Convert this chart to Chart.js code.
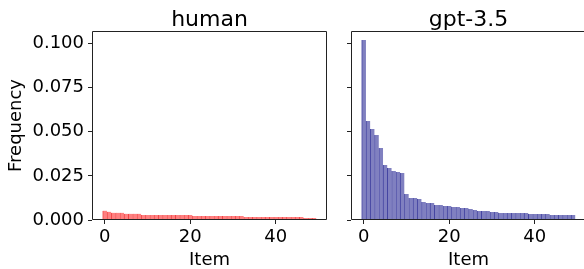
<!DOCTYPE html>
<html>
<head>
<meta charset="utf-8">
<script src="https://cdn.jsdelivr.net/npm/chart.js@4/dist/chart.umd.min.js"></script>
<style>
  html, body { margin: 0; padding: 0; background: #fff; width: 584px; height: 269px; overflow: hidden; }
  #wrap { position: relative; width: 584px; height: 269px; overflow: hidden; }
  canvas { position: absolute; top: 0; }
  #c1 { left: 0; }
  #c2 { left: 330px; }
</style>
</head>
<body>
<div id="wrap">
  <canvas id="c1" width="340" height="269"></canvas>
  <canvas id="c2" width="270" height="269"></canvas>
</div>
<script>
// ---- data ----
const items = Array.from({length: 50}, (_, i) => i);
const humanFreq = [
  0.0053, 0.0047, 0.0041, 0.0041, 0.0041, 0.0035, 0.0035, 0.0035, 0.0035, 0.0029,
  0.0029, 0.0029, 0.0029, 0.0029, 0.0029, 0.0029, 0.0029, 0.0029, 0.0029, 0.0029,
  0.0029, 0.0023, 0.0023, 0.0023, 0.0023, 0.0023, 0.0023, 0.0023, 0.0023, 0.0023,
  0.0023, 0.0023, 0.0023, 0.0017, 0.0017, 0.0017, 0.0017, 0.0017, 0.0017, 0.0017,
  0.0017, 0.0017, 0.0017, 0.0017, 0.0017, 0.0017, 0.0017, 0.0011, 0.0011, 0.0011
];
const gptFreq = [
  0.1020, 0.0561, 0.0516, 0.0482, 0.0408, 0.0312, 0.0295, 0.0278, 0.0272, 0.0266,
  0.0147, 0.0125, 0.0125, 0.0119, 0.0102, 0.0096, 0.0096, 0.0085, 0.0085, 0.0079,
  0.0079, 0.0074, 0.0074, 0.0068, 0.0068, 0.0062, 0.0057, 0.0051, 0.0051, 0.0051,
  0.0045, 0.0045, 0.0040, 0.0040, 0.0040, 0.0040, 0.0040, 0.0040, 0.0040, 0.0034,
  0.0034, 0.0034, 0.0034, 0.0034, 0.0028, 0.0028, 0.0028, 0.0028, 0.0028, 0.0028
];
const panelTitles = ['human', 'gpt-3.5'];
const xTicks = [0, 20, 40];
const yTicks = [0, 0.025, 0.05, 0.075, 0.1];
const xRange = [-3, 52];
const yRange = [0, 0.1071];
const xLabel = 'Item';
const yLabel = 'Frequency';

const FONT = "'DejaVu Sans', sans-serif";

const framePlugin = {
  id: 'frame',
  afterDatasetsDraw(chart, args, opts) {
    const {ctx, chartArea: a} = chart;
    ctx.save();
    ctx.strokeStyle = '#222';
    ctx.lineWidth = 1;
    ctx.beginPath();
    ctx.rect(Math.round(a.left) + 0.5, Math.round(a.top) + 0.5,
             Math.round(a.right - a.left) - 1, Math.round(a.bottom - a.top) - 1);
    ctx.stroke();
    ctx.fillStyle = '#000';
    ctx.font = '22px ' + FONT;
    ctx.textAlign = 'center';
    ctx.textBaseline = 'alphabetic';
    ctx.fillText(opts.text, (a.left + a.right) / 2, 26);
    ctx.restore();
  }
};

function makeChart(id, values, fill, edge, title, showYLabels, yWidth, padRight) {
  return new Chart(document.getElementById(id), {
    type: 'bar',
    data: {
      datasets: [{
        data: items.map((x, i) => ({x: x, y: values[i]})),
        backgroundColor: fill,
        borderColor: edge,
        borderWidth: {left: 1, right: 0, top: 0, bottom: 0},
        borderSkipped: false,
        barPercentage: 1,
        categoryPercentage: 1
      }]
    },
    options: {
      responsive: false,
      animation: false,
      devicePixelRatio: 1,
      layout: {padding: {top: 31, right: padRight, left: 0, bottom: 0}},
      plugins: {legend: {display: false}, tooltip: {enabled: false}, frame: {text: title}},
      scales: {
        x: {
          type: 'linear',
          offset: false,
          min: xRange[0], max: xRange[1],
          grid: {display: true, offset: false, drawOnChartArea: false, drawTicks: true, tickLength: 4, tickColor: '#222', tickWidth: 1},
          border: {display: false},
          ticks: {font: {family: FONT, size: 18}, color: '#000', padding: 3, maxRotation: 0},
          title: {display: true, text: xLabel, font: {family: FONT, size: 18, lineHeight: 1}, color: '#000', padding: {top: 0, bottom: 0}},
          afterBuildTicks: s => { s.ticks = xTicks.map(v => ({value: v})); },
          afterFit: s => { s.height = 49; }
        },
        y: {
          type: 'linear',
          min: yRange[0], max: yRange[1],
          grid: {display: true, drawOnChartArea: false, drawTicks: true, tickLength: 4, tickColor: '#222', tickWidth: 1},
          border: {display: false},
          ticks: {font: {family: FONT, size: 18}, color: '#000', padding: 4,
                  callback: v => showYLabels ? Number(v).toFixed(3) : ''},
          title: {display: showYLabels, text: yLabel, font: {family: FONT, size: 18, lineHeight: 1}, color: '#000', padding: {top: 7, bottom: 0}},
          afterBuildTicks: s => { s.ticks = yTicks.map(v => ({value: v})); },
          afterFit: s => { s.width = yWidth; }
        }
      }
    },
    plugins: [framePlugin]
  });
}

makeChart('c1', humanFreq, '#ff8080', '#f04545', panelTitles[0], true, 92, 13);
makeChart('c2', gptFreq, '#8080c0', '#4545a2', panelTitles[1], false, 21, 14);
</script>
</body>
</html>
